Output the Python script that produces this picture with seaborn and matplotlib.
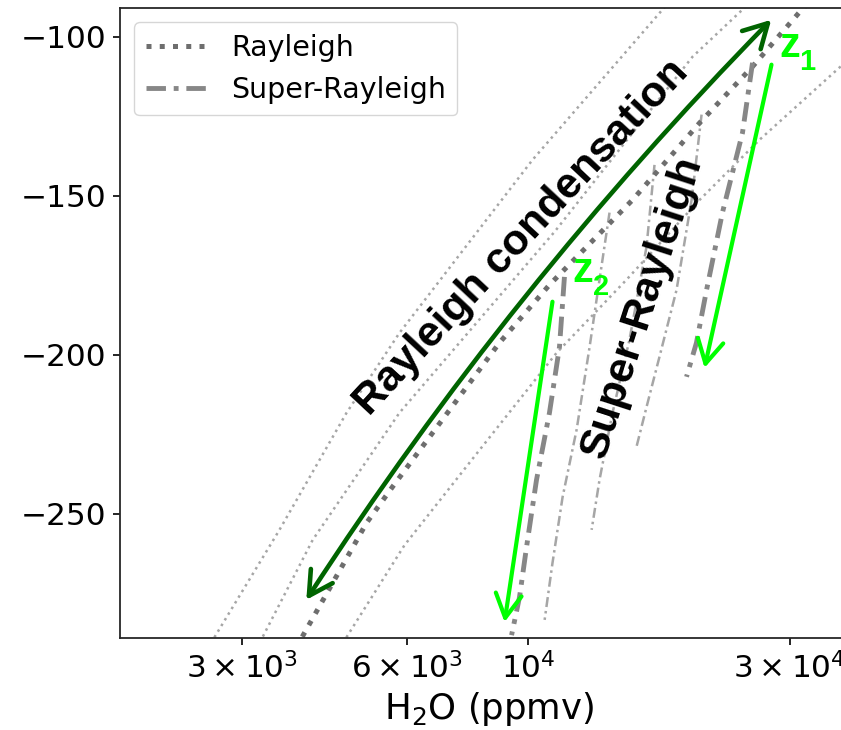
import matplotlib
matplotlib.use('Agg')
import matplotlib.pyplot as plt
import seaborn as sns

# values: H2O in ppmv, y = deltaD
# Rayleigh curves (the thick one is the highlighted case)
ray_x = [3670, 3860, 5073, 5656, 8867, 10940, 15510, 20560, 25680, 31280, 33460]
ray_y = [-295.9, -289.0, -252.8, -241.5, -196.2, -178.0, -151.3, -127.1, -109.4, -92.3, -86.8]

ray1_x = [2526, 2678, 3518, 4664, 5825, 10190, 17590, 18580]
ray1_y = [-295.9, -288.7, -255.0, -218.2, -193.1, -138.7, -91.5, -86.8]

ray2_x = [3115, 3277, 4044, 5825, 11180, 19960, 24620, 26010]
ray2_y = [-295.9, -288.7, -258.2, -218.2, -161.3, -106.3, -91.5, -86.8]

ray3_x = [4398, 4664, 5950, 8155, 11270, 15120, 20560, 26450, 37170, 41990]
ray3_y = [-295.9, -288.7, -259.8, -229.9, -199.4, -176.4, -151.3, -132.4, -109.4, -101.3]

# Super-Rayleigh branches
sr_a_x = [25680, 24620, 22630, 21170, 20290, 19460]
sr_a_y = [-108.2, -130.2, -155.3, -179.6, -196.2, -206.9]

sr_b_x = [20730, 19880, 18660, 17370, 16450, 15770]
sr_b_y = [-124.5, -151.3, -179.6, -200.6, -216.4, -228.9]

sr_c_x = [17010, 16450, 15310, 14260, 13500, 13060]
sr_c_y = [-140.3, -166.0, -195.3, -218.2, -239.3, -255.0]

sr_d_x = [14080, 13500, 12950, 12260, 11560, 11080, 10720]
sr_d_y = [-155.3, -176.4, -197.5, -223.6, -244.7, -265.4, -283.3]

sr_e_x = [11650, 11410, 10940, 10360, 9935, 9647, 9329]
sr_e_y = [-175.5, -197.5, -218.2, -239.3, -260.4, -276.1, -288.1]

# arrows: (start, end)
cond_arrow = ((3938, -277.0), (27780, -94.7))
z1_arrow = ((27810, -108.8), (20990, -204.1))
z2_arrow = ((11080, -183.3), (9058, -284.0))

xticks = [3000, 6000, 10000, 30000]
xticklabels = [r'$3\times10^{3}$', r'$6\times10^{3}$', r'$10^{4}$', r'$3\times10^{4}$']
yticks = [-100, -150, -200, -250]

sns.set_style('ticks')
plt.rcParams['font.family'] = ['DejaVu Sans']
plt.rcParams['text.color'] = 'black'
plt.rcParams['axes.labelcolor'] = 'black'
plt.rcParams['xtick.color'] = 'black'
plt.rcParams['ytick.color'] = 'black'

fig = plt.figure(figsize=(8.41, 7.30), dpi=100)
ax = fig.add_axes([0.1427, 0.126, 0.8775, 0.863])
ax.set_xscale('log')

thin_grey = '#a6a6a6'
dashdot = (0, (4, 1.6, 1, 1.6))

for xs, ys in [(ray1_x, ray1_y), (ray2_x, ray2_y), (ray3_x, ray3_y)]:
    sns.lineplot(x=xs, y=ys, ax=ax, sort=False, estimator=None,
                 color=thin_grey, lw=1.8, linestyle=':')

for xs, ys in [(sr_b_x, sr_b_y), (sr_c_x, sr_c_y), (sr_d_x, sr_d_y)]:
    sns.lineplot(x=xs, y=ys, ax=ax, sort=False, estimator=None,
                 color=thin_grey, lw=1.8, linestyle=dashdot)

sns.lineplot(x=ray_x, y=ray_y, ax=ax, sort=False, estimator=None,
             color='#6e6e6e', lw=3.6, linestyle=':', label='Rayleigh')
ray_line = ax.lines[-1]
sns.lineplot(x=sr_a_x, y=sr_a_y, ax=ax, sort=False, estimator=None,
             color='#878787', lw=3.5, linestyle=dashdot, label='Super-Rayleigh')
sr_line = ax.lines[-1]
sns.lineplot(x=sr_e_x, y=sr_e_y, ax=ax, sort=False, estimator=None,
             color='#878787', lw=3.5, linestyle=dashdot)

ax.set_xlim(1800, 40000)
ax.set_ylim(-289, -91)
ax.minorticks_off()
ax.set_xticks(xticks, labels=xticklabels)
ax.set_yticks(yticks)
ax.tick_params(labelsize=22.4, length=5, width=1.2, pad=5)
ax.set_xlabel(r'H$_2$O (ppmv)', fontsize=25.6)
for s in ax.spines.values():
    s.set_linewidth(1.3)

# arrows
ax.annotate('', xy=cond_arrow[1], xytext=cond_arrow[0],
            arrowprops=dict(arrowstyle='<->,head_length=1.0,head_width=0.55',
                            mutation_scale=17, color='#006400', lw=3.3,
                            shrinkA=0, shrinkB=0,
                            connectionstyle='arc3,rad=-0.05'))
for start, end in [z1_arrow, z2_arrow]:
    ax.annotate('', xy=end, xytext=start,
                arrowprops=dict(arrowstyle='->,head_length=1.0,head_width=0.55',
                                mutation_scale=17, color='#00ff00', lw=3.0,
                                shrinkA=0, shrinkB=0))

# labels
ann_font = ['Liberation Sans', 'DejaVu Sans']
ax.text(9728, -163.2, 'Rayleigh condensation', fontsize=31, fontweight='bold',
        family=ann_font, rotation=47, rotation_mode='anchor',
        ha='center', va='center', color='black')
ax.text(16200, -185.0, 'Super-Rayleigh', fontsize=31, fontweight='bold',
        family=ann_font, rotation=72, rotation_mode='anchor',
        ha='center', va='center', color='black')

ax.text(28760, -106.3, 'z', fontsize=30, fontweight='bold', family=ann_font,
        color='#00ff00', ha='left', va='baseline')
ax.text(31300, -110.4, '1', fontsize=21, fontweight='bold', family=ann_font,
        color='#00ff00', ha='left', va='baseline')
ax.text(12050, -177.0, 'z', fontsize=30, fontweight='bold', family=ann_font,
        color='#00ff00', ha='left', va='baseline')
ax.text(13150, -181.1, '2', fontsize=21, fontweight='bold', family=ann_font,
        color='#00ff00', ha='left', va='baseline')

ax.legend(handles=[ray_line, sr_line], labels=['Rayleigh', 'Super-Rayleigh'],
          loc='upper left', fontsize=20.5, handlelength=2.2)

fig.savefig('out.png', dpi=100)
